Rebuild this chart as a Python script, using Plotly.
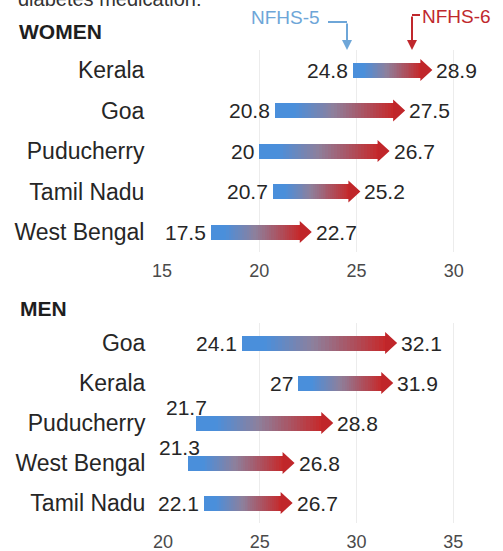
import plotly.graph_objects as go

# ---------------- data ----------------
women_states = ["Kerala", "Goa", "Puducherry", "Tamil Nadu", "West Bengal"]
women_nfhs5 = [24.8, 20.8, 20, 20.7, 17.5]
women_nfhs6 = [28.9, 27.5, 26.7, 25.2, 22.7]

men_states = ["Goa", "Kerala", "Puducherry", "West Bengal", "Tamil Nadu"]
men_nfhs5 = [24.1, 27, 21.7, 21.3, 22.1]
men_nfhs6 = [32.1, 31.9, 28.8, 26.8, 26.7]

women_ticks = [15, 20, 25, 30]
men_ticks = [20, 25, 30, 35]

# label placement style for the NFHS-5 value ("left" of arrow or "above")
women_start_pos = ["left"] * 5
men_start_pos = ["left", "left", "above", "above", "left"]

# ---------------- style ----------------
W, H = 503, 551
FONT = "Liberation Sans, Arial, sans-serif"
BLUE = "#4a8fdb"
MID = "#8e7f9b"
RED = "#c52a2c"
HEAD_RED = "#c0262a"
TXT = "#262626"

fig = go.Figure()

def px_x(p):
    return p / W

def px_y(p):
    return 1 - p / H

def add_panel(states, v5, v6, start_pos, xa, ya, px_per_unit, row_px):
    n_seg = 40
    hl = 12 / px_per_unit          # head length (data units)
    hw = 11 / row_px               # head half height (row units)
    shaft_w = 15 / row_px
    ys, bases, lens, cols = [], [], [], []
    hx, hy = [], []
    for i, (s, e) in enumerate(zip(v5, v6)):
        shaft_end = e - hl + 0.05
        d = (shaft_end - s) / n_seg
        for k in range(n_seg):
            ys.append(i)
            bases.append(s + k * d)
            lens.append(d * 1.35 if k < n_seg - 1 else d)
            cols.append(k / (n_seg - 1))
        hx += [e - hl, e, e - hl, None]
        hy += [i - hw, i, i + hw, None]
    fig.add_trace(go.Bar(
        orientation="h", y=ys, x=lens, base=bases, width=shaft_w,
        marker=dict(color=cols, cmin=0, cmax=1,
                    colorscale=[[0, BLUE], [0.15, BLUE], [0.5, MID], [1, RED]],
                    line=dict(width=0)),
        xaxis=xa, yaxis=ya, showlegend=False, hoverinfo="skip"))
    fig.add_trace(go.Scatter(
        x=hx, y=hy, mode="lines", fill="toself", fillcolor=HEAD_RED,
        line=dict(width=0, color=HEAD_RED), xaxis=xa, yaxis=ya,
        showlegend=False, hoverinfo="skip"))
    for i, (s, e) in enumerate(zip(v5, v6)):
        if start_pos[i] == "left":
            fig.add_annotation(x=s, y=i, xref=xa, yref=ya, text=f"{s:g}",
                               showarrow=False, xanchor="right", yanchor="middle",
                               xshift=-3, font=dict(family=FONT, size=21, color=TXT))
        else:
            fig.add_annotation(x=s, y=i, xref=xa, yref=ya, text=f"{s:g}",
                               showarrow=False, xanchor="center", yanchor="middle",
                               xshift=-9, yshift=16, font=dict(family=FONT, size=21, color=TXT))
        fig.add_annotation(x=e, y=i, xref=xa, yref=ya, text=f"{e:g}",
                           showarrow=False, xanchor="left", yanchor="middle",
                           xshift=2, font=dict(family=FONT, size=21, color=TXT))

# women panel: 15 -> px 162, 19.45 px/unit; rows at px 70..232
w_ppu = 19.45
w_row = 40.5
w_top = 70
add_panel(women_states, women_nfhs5, women_nfhs6, women_start_pos, "x", "y", w_ppu, w_row)
# men panel: 20 -> px 163, 19.35 px/unit; rows at px 343..503
m_ppu = 19.35
m_row = 40.0
m_top = 343
add_panel(men_states, men_nfhs5, men_nfhs6, men_start_pos, "x2", "y2", m_ppu, m_row)

axis_common = dict(showline=False, zeroline=False, showgrid=True,
                   gridcolor="#ececec", gridwidth=1,
                   tickfont=dict(family=FONT, size=18, color="#4a4a4a"),
                   ticks="outside", ticklen=2, tickcolor="rgba(0,0,0,0)",
                   automargin=False, fixedrange=True)
ycommon = dict(showline=False, zeroline=False, showgrid=False,
               tickfont=dict(family=FONT, size=23, color=TXT),
               ticks="outside", ticklen=12, tickcolor="rgba(0,0,0,0)",
               automargin=False, fixedrange=True)

w_x0 = 162
m_x0 = 163
fig.update_layout(
    template="none",
    width=W, height=H,
    margin=dict(l=0, r=0, t=0, b=0, autoexpand=False),
    paper_bgcolor="white", plot_bgcolor="white",
    bargap=0, showlegend=False,
    xaxis=dict(domain=[px_x(w_x0), 1], range=[15, 15 + (W - w_x0) / w_ppu],
               tickvals=women_ticks, ticktext=[str(t) for t in women_ticks],
               anchor="y", **axis_common),
    yaxis=dict(domain=[px_y(w_top + 4.5 * w_row), px_y(w_top - 0.5 * w_row)],
               range=[4.5, -0.5], tickvals=list(range(len(women_states))),
               ticktext=women_states, anchor="x", **ycommon),
    xaxis2=dict(domain=[px_x(m_x0), 1], range=[20, 20 + (W - m_x0) / m_ppu],
                tickvals=men_ticks, ticktext=[str(t) for t in men_ticks],
                anchor="y2", **axis_common),
    yaxis2=dict(domain=[px_y(m_top + 4.5 * m_row), px_y(m_top - 0.5 * m_row)],
                range=[4.5, -0.5], tickvals=list(range(len(men_states))),
                ticktext=men_states, anchor="x2", **ycommon),
)

# headings
fig.add_annotation(x=px_x(16), y=px_y(-1), xref="paper", yref="paper",
                   text="diabetes medication:", showarrow=False,
                   xanchor="left", yanchor="middle",
                   font=dict(family=FONT, size=20, color="#333333"))
fig.add_annotation(x=px_x(17), y=px_y(32), xref="paper", yref="paper",
                   text="<b>WOMEN</b>", showarrow=False,
                   xanchor="left", yanchor="middle",
                   font=dict(family=FONT, size=21, color="#1e1e1e"))
fig.add_annotation(x=px_x(18), y=px_y(308), xref="paper", yref="paper",
                   text="<b>MEN</b>", showarrow=False,
                   xanchor="left", yanchor="middle",
                   font=dict(family=FONT, size=21, color="#1e1e1e"))

# legend keys
L5 = "#6ea6d8"
L6 = "#c0282d"
fig.add_annotation(x=px_x(249), y=px_y(17), xref="paper", yref="paper",
                   text="NFHS-5", showarrow=False, xanchor="left", yanchor="middle",
                   font=dict(family=FONT, size=19, color=L5))
fig.add_annotation(x=px_x(420), y=px_y(16), xref="paper", yref="paper",
                   text="NFHS-6", showarrow=False, xanchor="left", yanchor="middle",
                   font=dict(family=FONT, size=19, color=L6))
fig.add_shape(type="line", xref="paper", yref="paper",
              x0=px_x(328), x1=px_x(347), y0=px_y(22), y1=px_y(22),
              line=dict(color=L5, width=2))
fig.add_annotation(x=px_x(347), y=px_y(50), xref="paper", yref="paper",
                   ax=0, ay=-28, text="", showarrow=True, arrowhead=2,
                   arrowsize=1, arrowwidth=2, arrowcolor=L5)
fig.add_shape(type="line", xref="paper", yref="paper",
              x0=px_x(412), x1=px_x(420), y0=px_y(15), y1=px_y(15),
              line=dict(color=L6, width=2))
fig.add_annotation(x=px_x(412), y=px_y(50), xref="paper", yref="paper",
                   ax=0, ay=-35, text="", showarrow=True, arrowhead=2,
                   arrowsize=1, arrowwidth=2, arrowcolor=L6)

fig.write_html("out.html", config={"displayModeBar": False},
               post_script="document.body.style.margin='0';")
